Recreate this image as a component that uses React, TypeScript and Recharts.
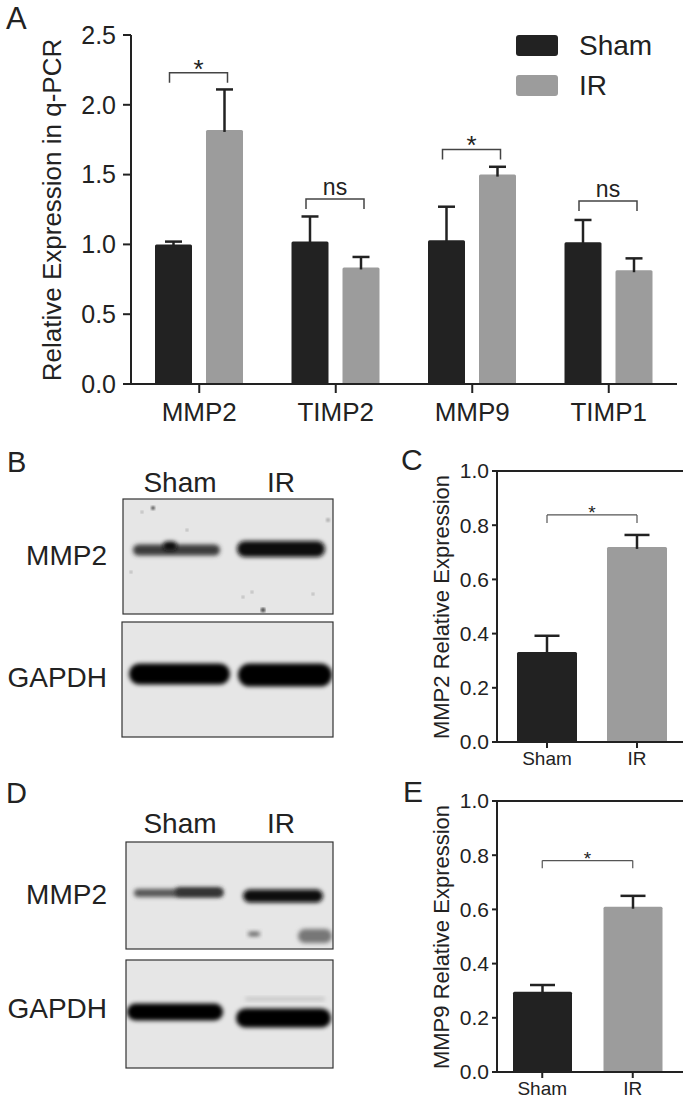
import React from "react";
import { BarChart, Bar, XAxis, YAxis, Legend, ReferenceLine } from "recharts";

const FONT = '"Liberation Sans", Arial, Helvetica, sans-serif';
const INK = "#222222";
const GREY = "#9c9c9c";

// A: q-PCR
const genes = ["MMP2", "TIMP2", "MMP9", "TIMP1"];
const shamQpcr = [1.0, 1.02, 1.03, 1.015];
const shamQpcrErr = [0.02, 0.18, 0.24, 0.16];
const irQpcr = [1.82, 0.835, 1.5, 0.815];
const irQpcrErr = [0.29, 0.075, 0.056, 0.085];
const bracketQpcr = [2.23, 1.325, 1.68, 1.31];
const sigQpcr = ["*", "ns", "*", "ns"];
const qpcrTicks = [0, 0.5, 1, 1.5, 2, 2.5];

// C and E: blot densitometry
const groups = ["Sham", "IR"];
const mmp2Rel = [0.332, 0.72];
const mmp2Err = [0.06, 0.044];
const mmp2Bracket = [0.838, 0.808];
const mmp9Rel = [0.296, 0.61];
const mmp9Err = [0.025, 0.04];
const mmp9Bracket = [0.78, 0.752];
const relTicks = [0, 0.2, 0.4, 0.6, 0.8, 1.0];

const qpcrData = genes.map((g, i) => ({
  gene: g,
  sham: shamQpcr[i],
  shamErr: shamQpcrErr[i],
  ir: irQpcr[i],
  irErr: irQpcrErr[i],
}));

const mmp2Data = groups.map((g, i) => ({ group: g, v: mmp2Rel[i], err: mmp2Err[i] }));
const mmp9Data = groups.map((g, i) => ({ group: g, v: mmp9Rel[i], err: mmp9Err[i] }));
const groupFill = [INK, GREY];

// bar + upward-only error whisker, scaled from the bar's own pixel height
function ErrShape(props: any) {
  const { x, y, width, height, fill, value, err, capW, lineW } = props;
  if (!height || !value) return null;
  const ppu = height / value;
  const cx = x + width / 2;
  const top = y - err * ppu;
  return (
    <g>
      <rect x={x} y={y} width={width} height={height} fill={fill} rx={1.5} />
      <line x1={cx} y1={y + 2} x2={cx} y2={top} stroke={INK} strokeWidth={lineW} />
      <line x1={cx - capW / 2} y1={top} x2={cx + capW / 2} y2={top} stroke={INK} strokeWidth={lineW} />
    </g>
  );
}

function BracketA(props: any) {
  const { x, y, width, height, value, index } = props;
  if (!height || !value) return null;
  const ppu = height / value;
  const base = y + height;
  const top = base - bracketQpcr[index] * ppu;
  const right = x + width / 2 + 3;
  const left = right - 58;
  const sig = sigQpcr[index];
  return (
    <g>
      <path
        d={`M${left},${top + 10} V${top} H${right} V${top + 10}`}
        fill="none"
        stroke="#444"
        strokeWidth={1.5}
      />
      <text
        x={(left + right) / 2}
        y={sig === "*" ? top + 5 : top - 4}
        textAnchor="middle"
        fontSize={sig === "*" ? 26 : 23}
        fontFamily={FONT}
        fill={INK}
      >
        {sig}
      </text>
    </g>
  );
}

function LegendA(props: any) {
  const items = [...(props.payload || [])].sort(
    (a: any, b: any) => groups.indexOf(a.value) - groups.indexOf(b.value)
  );
  return (
    <div style={{ fontFamily: FONT, position: "relative" }}>
      {items.map((p: any, i: number) => (
        <div
          key={p.value}
          style={{ position: "absolute", left: 0, top: i * 40, height: 21, display: "flex", alignItems: "center" }}
        >
          <div style={{ width: 42, height: 21, background: p.color, borderRadius: 3 }} />
          <span style={{ fontSize: 28, color: INK, marginLeft: 21, lineHeight: "21px" }}>{p.value}</span>
        </div>
      ))}
    </div>
  );
}

function RelChart({
  data,
  bracket,
  top,
  label,
  padLeft,
  padRight,
  barSize,
}: {
  data: { group: string; v: number; err: number }[];
  bracket: number[];
  top: number;
  label: string;
  padLeft: number;
  padRight: number;
  barSize: number;
}) {
  return (
    <div style={{ position: "absolute", left: 400, top, width: 285, height: 330 }}>
      <BarChart width={285} height={330} data={data} margin={{ top: 21, right: 2, bottom: 2, left: 0 }} barSize={barSize}>
        <XAxis
          dataKey="group"
          axisLine={{ stroke: INK, strokeWidth: 2 }}
          tickLine={{ stroke: INK, strokeWidth: 2 }}
          tickSize={6}
          tickMargin={4}
          height={36}
          padding={{ left: padLeft, right: padRight }}
          tick={{ fontSize: 19, fill: INK, fontFamily: FONT }}
        />
        <YAxis
          domain={[0, 1]}
          ticks={relTicks}
          interval={0}
          width={97}
          tickFormatter={(v: number) => v.toFixed(1)}
          axisLine={{ stroke: INK, strokeWidth: 2 }}
          tickLine={{ stroke: INK, strokeWidth: 2 }}
          tickSize={5}
          tickMargin={3}
          tick={{ fontSize: 21, fill: INK, fontFamily: FONT }}
        />
        <YAxis
          yAxisId="frame"
          orientation="right"
          domain={[0, 1]}
          width={0}
          tick={false}
          tickLine={false}
          axisLine={{ stroke: INK, strokeWidth: 2 }}
        />
        <ReferenceLine y={1} stroke={INK} strokeWidth={2} />
        <Bar
          dataKey="v"
          isAnimationActive={false}
          shape={(p: any) => (
            <ErrShape {...p} fill={groupFill[p.index]} value={p.payload.v} err={p.payload.err} capW={25} lineW={2.5} />
          )}
        />
        <ReferenceLine
          segment={[
            { x: "Sham", y: bracket[0] },
            { x: "IR", y: bracket[0] },
          ]}
          stroke="#555"
          strokeWidth={1.2}
          ifOverflow="visible"
          label={(p: any) => {
            const vb = p.viewBox || { x: 0, y: 0, width: 0 };
            return (
              <text x={vb.x + vb.width / 2} y={vb.y + 4} textAnchor="middle" fontSize={19} fontFamily={FONT} fill={INK}>
                *
              </text>
            );
          }}
        />
        <ReferenceLine
          segment={[
            { x: "Sham", y: bracket[0] },
            { x: "Sham", y: bracket[1] },
          ]}
          stroke="#555"
          strokeWidth={1.2}
          ifOverflow="visible"
        />
        <ReferenceLine
          segment={[
            { x: "IR", y: bracket[0] },
            { x: "IR", y: bracket[1] },
          ]}
          stroke="#555"
          strokeWidth={1.2}
          ifOverflow="visible"
        />
      </BarChart>
      <svg width={285} height={330} style={{ position: "absolute", left: 0, top: 0, pointerEvents: "none" }}>
        <text
          transform={`translate(41, 157) rotate(-90)`}
          textAnchor="middle"
          dy="0.35em"
          fontSize={22}
          fontFamily={FONT}
          fill={INK}
        >
          {label}
        </text>
      </svg>
    </div>
  );
}

type Band = { x: number; y: number; w: number; h: number; c: string };

function Blot({ x, y, w, h, bands, specks, id }: { x: number; y: number; w: number; h: number; bands: Band[]; specks?: number[][]; id: string }) {
  return (
    <g>
      <clipPath id={id}>
        <rect x={x} y={y} width={w} height={h} />
      </clipPath>
      <rect x={x} y={y} width={w} height={h} fill="#e6e6e6" />
      <g clipPath={`url(#${id})`}>
        {bands.map((b, i) => (
          <rect key={i} x={b.x} y={b.y - b.h / 2} width={b.w} height={b.h} rx={b.h / 2} fill={b.c} filter="url(#blotBlur)" />
        ))}
        {(specks || []).map((s, i) => (
          <circle key={i} cx={s[0]} cy={s[1]} r={s[2]} fill={s[3] ? "#555" : "#aaa"} filter="url(#speckBlur)" />
        ))}
      </g>
      <rect x={x} y={y} width={w} height={h} fill="none" stroke="#333" strokeWidth={1.2} />
    </g>
  );
}

export default function App() {
  const txt = { fontFamily: FONT, fill: INK } as const;
  return (
    <div style={{ position: "absolute", left: 0, top: 0, width: 685, height: 1101, background: "#fff", overflow: "hidden" }}>
      <div style={{ position: "absolute", left: 0, top: 0 }}>
        <BarChart width={685} height={440} data={qpcrData} margin={{ top: 35, right: 8, bottom: 6, left: 0 }} barSize={37} barGap={14}>
          <XAxis
            dataKey="gene"
            height={50}
            axisLine={{ stroke: INK, strokeWidth: 2 }}
            tickLine={{ stroke: INK, strokeWidth: 2 }}
            tickSize={9}
            tickMargin={10}
            tick={{ fontSize: 26, fill: INK, fontFamily: FONT }}
          />
          <YAxis
            domain={[0, 2.5]}
            ticks={qpcrTicks}
            interval={0}
            width={131}
            tickFormatter={(v: number) => v.toFixed(1)}
            axisLine={{ stroke: INK, strokeWidth: 2 }}
            tickLine={{ stroke: INK, strokeWidth: 2 }}
            tickSize={8}
            tickMargin={7}
            tick={{ fontSize: 25, fill: INK, fontFamily: FONT }}
          />
          <Legend
            layout="horizontal"
            verticalAlign="middle"
            align="center"
            content={LegendA}
            wrapperStyle={{ top: 35, left: 516, width: 160, height: 80 }}
          />
          <Bar
            dataKey="sham"
            name="Sham"
            fill={INK}
            isAnimationActive={false}
            shape={(p: any) => <ErrShape {...p} value={p.payload.sham} err={p.payload.shamErr} capW={17} lineW={2.5} />}
          />
          <Bar
            dataKey="ir"
            name="IR"
            fill={GREY}
            isAnimationActive={false}
            shape={(p: any) => <ErrShape {...p} value={p.payload.ir} err={p.payload.irErr} capW={17} lineW={2.5} />}
            label={(p: any) => <BracketA {...p} />}
          />
        </BarChart>
      </div>

      <RelChart data={mmp2Data} bracket={mmp2Bracket} top={450} label="MMP2 Relative Expression" padLeft={5} padRight={1} barSize={60} />
      <RelChart data={mmp9Data} bracket={mmp9Bracket} top={780} label="MMP9 Relative Expression" padLeft={0} padRight={5} barSize={59} />

      <svg width={685} height={1101} style={{ position: "absolute", left: 0, top: 0, pointerEvents: "none" }}>
        <defs>
          <filter id="blotBlur" x="-20%" y="-80%" width="140%" height="260%">
            <feGaussianBlur stdDeviation="2.2" />
          </filter>
          <filter id="speckBlur">
            <feGaussianBlur stdDeviation="0.8" />
          </filter>
        </defs>

        <text x={6} y={29} fontSize={31} {...txt}>A</text>
        <text x={7} y={472} fontSize={29} {...txt}>B</text>
        <text x={401} y={470} fontSize={30} {...txt}>C</text>
        <text x={6} y={803} fontSize={29} {...txt}>D</text>
        <text x={403} y={802} fontSize={30} {...txt}>E</text>

        <text transform="translate(52, 210) rotate(-90)" textAnchor="middle" dy="0.35em" fontSize={26} {...txt}>
          Relative Expression in q-PCR
        </text>

        {/* B */}
        <text x={180} y={492} textAnchor="middle" fontSize={28} {...txt}>Sham</text>
        <text x={281} y={492} textAnchor="middle" fontSize={28} {...txt}>IR</text>
        <text x={107} y={565} textAnchor="end" fontSize={28} {...txt}>MMP2</text>
        <text x={107} y={687} textAnchor="end" fontSize={28} {...txt}>GAPDH</text>
        <Blot
          id="b1"
          x={123}
          y={499}
          w={210}
          h={115}
          bands={[
            { x: 133, y: 550, w: 87, h: 11, c: "#3a3a3a" },
            { x: 163, y: 546, w: 14, h: 9, c: "#111" },
            { x: 237, y: 549, w: 88, h: 16, c: "#0d0d0d" },
          ]}
          specks={[
            [153, 508, 2, 1],
            [142, 512, 1.5, 0],
            [187, 530, 1.5, 0],
            [131, 572, 1.5, 0],
            [243, 597, 1.5, 0],
            [263, 610, 2.5, 1],
            [252, 592, 1.5, 0],
            [328, 520, 2, 0],
            [313, 594, 1.5, 0],
          ]}
        />
        <Blot
          id="b2"
          x={122}
          y={622}
          w={211}
          h={115}
          bands={[
            { x: 129, y: 674, w: 101, h: 21, c: "#050505" },
            { x: 238, y: 675, w: 94, h: 23, c: "#030303" },
          ]}
        />

        {/* D */}
        <text x={180} y={833} textAnchor="middle" fontSize={28} {...txt}>Sham</text>
        <text x={281} y={833} textAnchor="middle" fontSize={28} {...txt}>IR</text>
        <text x={107} y={904} textAnchor="end" fontSize={28} {...txt}>MMP2</text>
        <text x={107} y={1018} textAnchor="end" fontSize={28} {...txt}>GAPDH</text>
        <Blot
          id="d1"
          x={126}
          y={842}
          w={207}
          h={107}
          bands={[
            { x: 134, y: 893, w: 89, h: 8, c: "#555" },
            { x: 175, y: 892, w: 48, h: 9, c: "#333" },
            { x: 243, y: 896, w: 80, h: 13, c: "#0d0d0d" },
            { x: 248, y: 934, w: 12, h: 4, c: "#555" },
            { x: 298, y: 936, w: 34, h: 14, c: "#777" },
          ]}
        />
        <Blot
          id="d2"
          x={126}
          y={960}
          w={207}
          h={108}
          bands={[
            { x: 127, y: 1012, w: 96, h: 17, c: "#050505" },
            { x: 236, y: 1018, w: 95, h: 19, c: "#030303" },
            { x: 245, y: 999, w: 80, h: 3, c: "#bbb" },
          ]}
        />
      </svg>
    </div>
  );
}
